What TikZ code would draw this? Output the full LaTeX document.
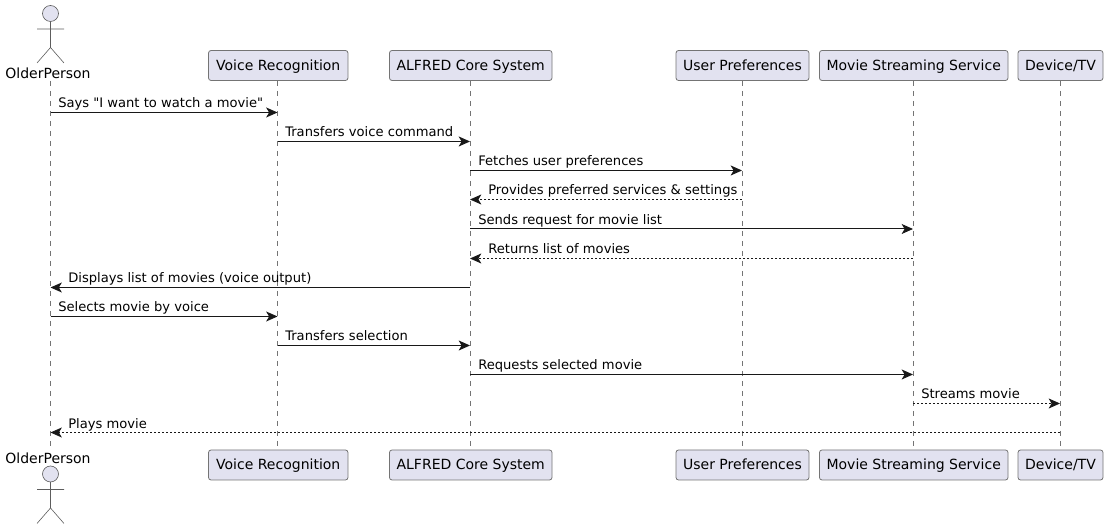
\documentclass[tikz,border=0pt]{standalone}
\usepackage{fontspec}
\setmainfont{DejaVu Sans}
\newfontfamily\plainfont{DejaVu Sans}
\usetikzlibrary{arrows.meta}
\definecolor{pfill}{HTML}{E2E2F0}
\definecolor{pline}{HTML}{181818}
\tikzset{
  x=0.75pt,y=-0.75pt,
  part/.style={draw=pline!60,fill=pfill,rounded corners=1.9pt,line width=0.6pt,font=\fontsize{10.5pt}{12pt}\selectfont,text=black,inner sep=0pt,minimum height=22.5pt,text height=8.2pt,text depth=1.4pt,anchor=center},
  actorline/.style={draw=pline!70,line width=0.45pt,fill=pfill},
  life/.style={draw=pline!60,line width=0.45pt,dash pattern=on 3.75pt off 3.75pt},
  msg/.style={draw=pline,line width=0.75pt,-{Stealth[length=8.5pt,width=7.5pt,inset=2.2pt]}},
  rmsg/.style={msg,line width=0.6pt,dash pattern=on 1.5pt off 1.5pt},
  lab/.style={font=\plainfont\fontsize{9.83pt}{12pt}\selectfont,text=black,inner sep=0pt,anchor=base west},
  alab/.style={font=\fontsize{10.5pt}{12pt}\selectfont,text=black,inner sep=0pt,anchor=base},
}
\newcommand{\actorfig}[1]{%
  \draw[actorline] (50.5,#1+8) circle[radius=6pt];
  \draw[actorline,fill=none] (50.5,#1+16) -- (50.5,#1+42) (37,#1+23.5) -- (64,#1+23.5) (37,#1+57.5) -- (50.5,#1+42) -- (64,#1+57.5);
}
\begin{document}
\begin{tikzpicture}
\useasboundingbox (0,0) rectangle (1108,530);
% participants
\node[alab] (opt) at (48,79) {OlderPerson};
\node[alab] (opb) at (48,464) {OlderPerson};
\node[part,minimum width=104.6pt] (vrt) at (278.25,65.5) {Voice Recognition};
\node[part,minimum width=121.9pt] (act) at (470.75,65.5) {ALFRED Core System};
\node[part,minimum width=99.75pt] (upt) at (742.5,65.5) {User Preferences};
\node[part,minimum width=141.4pt] (mst) at (913.75,65.5) {Movie Streaming Service};
\node[part,minimum width=63.75pt] (dvt) at (1060.5,65.5) {Device/TV};
\node[part,minimum width=104.6pt] (vrb) at (278.25,465) {Voice Recognition};
\node[part,minimum width=121.9pt] (acb) at (470.75,465) {ALFRED Core System};
\node[part,minimum width=99.75pt] (upb) at (742.5,465) {User Preferences};
\node[part,minimum width=141.4pt] (msb) at (913.75,465) {Movie Streaming Service};
\node[part,minimum width=63.75pt] (dvb) at (1060.5,465) {Device/TV};
% lifeline anchors
\coordinate (opl) at (50.5,81);
\coordinate (opk) at (50.5,447);
\coordinate (vr) at (277.5,0);
\coordinate (ac) at (470,0);
\coordinate (up) at (742,0);
\coordinate (ms) at (913,0);
\coordinate (dv) at (1060,0);
\draw[life] (opl) -- (opk);
\draw[life] (vr |- vrt.south) -- (vr |- vrb.north);
\draw[life] (ac |- act.south) -- (ac |- acb.north);
\draw[life] (up |- upt.south) -- (up |- upb.north);
\draw[life] (ms |- mst.south) -- (ms |- msb.north);
\draw[life] (dv |- dvt.south) -- (dv |- dvb.north);
% actors
\actorfig{5.5}
\actorfig{466}
% rows
\foreach \n/\y in {1/112.5,2/141.5,3/170.5,4/199.5,5/229,6/258.5,7/287.5,8/316.5,9/345.5,10/374.5,11/403.5,12/432.5}
  \coordinate (r\n) at (0,\y);
\coordinate (op) at (50.5,0);
% messages
\draw[msg] (op |- r1) -- (vr |- r1);
\draw[msg] (vr |- r2) -- (ac |- r2);
\draw[msg] (ac |- r3) -- (up |- r3);
\draw[rmsg] (up |- r4) -- (ac |- r4);
\draw[msg] (ac |- r5) -- (ms |- r5);
\draw[rmsg] (ms |- r6) -- (ac |- r6);
\draw[msg] (ac |- r7) -- (op |- r7);
\draw[msg] (op |- r8) -- (vr |- r8);
\draw[msg] (vr |- r9) -- (ac |- r9);
\draw[msg] (ac |- r10) -- (ms |- r10);
\draw[rmsg] (ms |- r11) -- (dv |- r11);
\draw[rmsg] (dv |- r12) -- (op |- r12);
% labels
\node[lab] (l1) at (58,108) {Says "I want to watch a movie"};
\node[lab] (l2) at (285,137) {Transfers voice command};
\node[lab] (l3) at (478,166) {Fetches user preferences};
\node[lab] (l4) at (488,195) {Provides preferred services \& settings};
\node[lab] (l5) at (478,225) {Sends request for movie list};
\node[lab] (l6) at (488,254) {Returns list of movies};
\node[lab] (l7) at (68,283) {Displays list of movies (voice output)};
\node[lab] (l8) at (58,312) {Selects movie by voice};
\node[lab] (l9) at (285,341) {Transfers selection};
\node[lab] (l10) at (478,370) {Requests selected movie};
\node[lab] (l11) at (921,399) {Streams movie};
\node[lab] (l12) at (68,428.5) {Plays movie};
\end{tikzpicture}
\end{document}
